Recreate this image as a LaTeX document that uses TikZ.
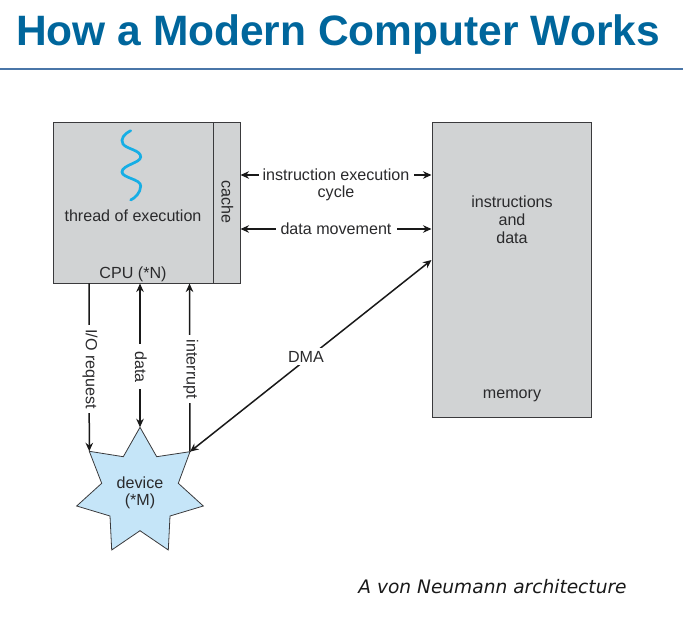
\documentclass[tikz,border=0pt]{standalone}
\usepackage{fontspec}
\setmainfont{Liberation Sans}
\newfontfamily\capfont{DejaVu Sans}
\usetikzlibrary{arrows.meta}
\definecolor{boxgray}{HTML}{D1D3D4}
\definecolor{edgegray}{HTML}{3A3A3C}
\definecolor{starblue}{HTML}{C5E5F8}
\definecolor{titleblue}{HTML}{00669C}
\definecolor{rulecol}{HTML}{4A76A8}
\definecolor{wave}{HTML}{16AEE5}
\definecolor{txt}{HTML}{2A2A2C}
\tikzset{
  x=1pt,y=-1pt,
  panel/.style={draw=edgegray,fill=boxgray,line width=1pt,inner sep=0pt,anchor=north west},
  lab/.style={font=\fontsize{16.1}{17.5}\selectfont,text=txt,inner sep=0pt,align=center},
  conn/.style={draw=black!90,line width=1.5pt,-{Stealth[length=8.5pt,width=7.5pt]}},
  connb/.style={draw=black!90,line width=1.5pt,{Stealth[length=8.5pt,width=7.5pt]}-{Stealth[length=8.5pt,width=7.5pt]}},
}
\begin{document}
\begin{tikzpicture}
\useasboundingbox (0,0) rectangle (683,620);
\node[font=\fontsize{42.5}{46}\selectfont\bfseries,text=titleblue,inner sep=0pt] (title) at (338,34.5) {How a Modern Computer Works};
\fill[rulecol] (0,68.5) rectangle (683,70.5);
% boxes
\node[panel,minimum width=187pt,minimum height=161pt] (cpu) at (53,122) {};
\node[panel,minimum width=27.5pt,minimum height=161pt] (cache) at (212.5,122) {};
\node[panel,minimum width=159pt,minimum height=295pt] (mem) at (432,122) {};
% thread
\draw[wave,line width=2.7pt,line cap=round] (130.7,130.7) .. controls (124,134) and (120,139) .. (123,144) .. controls (126,149) and (141,150) .. (140.7,157) .. controls (140.5,163) and (122,165) .. (122,172) .. controls (122,178) and (141,179) .. (140.7,186) .. controls (140.5,193) and (135,198) .. (130.7,200);
\node[lab] (thread) at (133,216) {thread of execution};
\node[lab] (cpulab) at (133,274) {CPU (*N)};
\node[lab,rotate=-90] (cachelab) at (227.5,202) {cache};
\node[lab,align=center] (memlab) at (512,220) {instructions\\[0.6pt]and\\[0.6pt]data};
\node[lab] (memname) at (512,396) {memory};
% star
\coordinate (s1) at (140,427.3);
\coordinate (s2) at (190,451.7);
\coordinate (s3) at (89.3,451.3);
\draw[edgegray,fill=starblue,line width=0.8pt] (s1) -- (156.7,456.7) -- (s2) -- (178.3,483.3) -- (203.3,506) -- (170,516) -- (168.3,550) -- (140,530.7) -- (111.7,550) -- (110,516) -- (76.7,506) -- (101.7,483.3) -- (s3) -- (123.3,456.7) -- cycle;
\node[lab,align=center] (dev) at (140,492.5) {device\\[-0.5pt](*M)};
% end points
\coordinate (a1) at (240.5,175); \coordinate (a2) at (431.5,175);
\coordinate (b1) at (240.5,229); \coordinate (b2) at (431.5,229);
\coordinate (c1) at (89,283.5); \coordinate (d1) at (140,283.5); \coordinate (e1) at (189.5,283.5);
\coordinate (m1) at (431.5,260);
% connectors
\draw[connb] (a1) -- (a2) node[pos=0.5,lab,fill=white,minimum width=155pt,minimum height=14pt] (iec) {instruction execution};
\node[lab] (cyc) at (336,193) {cycle};
\draw[connb] (b1) -- (b2) node[pos=0.5,lab,fill=white,minimum width=121pt,minimum height=14pt] (dm) {data movement};
\draw[conn] (c1) -- (s3) node[pos=0.51,lab,xshift=1pt,rotate=-90,fill=white,minimum width=88pt,minimum height=12pt] (io) {I/O request};
\draw[connb] (d1) -- (s1) node[pos=0.58,lab,xshift=1pt,rotate=-90,fill=white,minimum width=45pt,minimum height=12pt] (dt) {data};
\draw[conn] (s2) -- (e1) node[pos=0.49,lab,xshift=1pt,rotate=-90,fill=white,minimum width=68pt,minimum height=12pt] (intr) {interrupt};
\draw[connb] (s2) -- (m1) node[pos=0.48,lab,fill=white,inner sep=3pt,yshift=3pt] (dma) {DMA};
\node[font=\capfont\itshape\fontsize{18.6}{20}\selectfont,text=black!90,inner sep=0pt] (capt) at (492.5,587) {A von Neumann architecture};
\end{tikzpicture}
\end{document}
